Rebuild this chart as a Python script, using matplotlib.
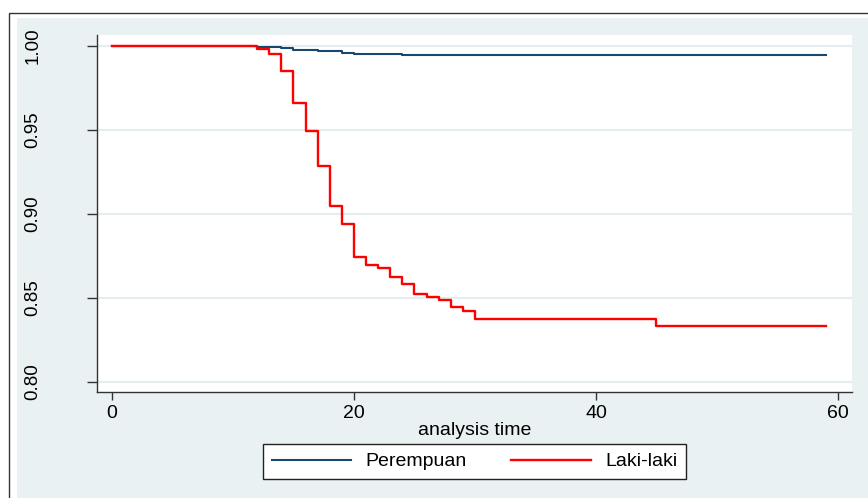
import matplotlib
matplotlib.use("Agg")
import matplotlib.pyplot as plt
from matplotlib.patches import Rectangle

plt.rcParams["font.family"] = ["Liberation Sans", "DejaVu Sans"]

# Kaplan-Meier survival estimates by group
t_perempuan = [0, 12, 14, 15, 17, 19, 20, 24, 59]
s_perempuan = [1.0, 0.9994, 0.9986, 0.9976, 0.9970, 0.9960, 0.9952, 0.9944, 0.9944]

t_laki = [0, 12, 13, 14, 15, 16, 17, 18, 19, 20, 21, 22, 23, 24, 25, 26, 27,
          28, 29, 30, 45, 59]
s_laki = [1.0, 0.9980, 0.9952, 0.9850, 0.9663, 0.9496, 0.9288, 0.9049, 0.8939,
          0.8744, 0.8695, 0.8679, 0.8623, 0.8583, 0.8526, 0.8506, 0.8486,
          0.8445, 0.8423, 0.8375, 0.8331, 0.8331]

labels = ["Perempuan", "Laki-laki"]
x_ticks = [0, 20, 40, 60]
y_ticks = [0.80, 0.85, 0.90, 0.95, 1.00]

W, H = 868, 498
bg = "#eaf1f3"

fig = plt.figure(figsize=(W / 100, H / 100), dpi=100)
fig.patch.set_facecolor("white")

# outer frame and shaded graph region
fig.patches.append(Rectangle((9 / W, -0.1), 1.2, 1 - 13 / H + 0.1,
                             transform=fig.transFigure, facecolor="white",
                             edgecolor="#333333", linewidth=1.0, zorder=-10))
fig.patches.append(Rectangle((17 / W, -0.1), 1.2, 1 - 18 / H + 0.1,
                             transform=fig.transFigure, facecolor=bg,
                             edgecolor="none", zorder=-9))

ax = fig.add_axes([97 / W, 1 - 392 / H, (852 - 97) / W, (392 - 35) / H])
ax.set_facecolor("white")

ax.step(t_perempuan, s_perempuan, where="post", color="#1a476f",
        linewidth=1.5, label=labels[0], zorder=3)
ax.step(t_laki, s_laki, where="post", color="#ff0000",
        linewidth=1.7, label=labels[1], zorder=4)

ax.set_xlim(-1.24, 61.16)
ax.set_ylim(0.794, 1.0065)
ax.set_xticks(x_ticks)
ax.set_yticks(y_ticks)
ax.set_yticklabels([f"{v:.2f}" for v in y_ticks], rotation=90, va="center")
ax.tick_params(axis="y", length=7, width=1, color="#333333", labelsize=13.5,
               pad=33)
ax.tick_params(axis="x", length=6, width=1, color="#333333", labelsize=14,
               pad=3)

ax.grid(axis="y", color="#e6edf0", linewidth=1.6, zorder=1)
ax.set_axisbelow(True)

for side in ["top", "right"]:
    ax.spines[side].set_visible(False)
for side in ["left", "bottom"]:
    ax.spines[side].set_color("#333333")
    ax.spines[side].set_linewidth(1.0)

ax.set_xlabel("analysis time", fontsize=14, labelpad=0)

leg = fig.legend(loc="center", bbox_to_anchor=(474.5 / W, 1 - 461.5 / H),
                 ncol=2, frameon=True, fancybox=False, edgecolor="#222222",
                 framealpha=1, fontsize=14, handlelength=4.1,
                 handletextpad=0.72, columnspacing=2.3, borderpad=0.45)
leg.get_frame().set_linewidth(1.0)

fig.savefig("out.png", dpi=100, facecolor=fig.get_facecolor())
